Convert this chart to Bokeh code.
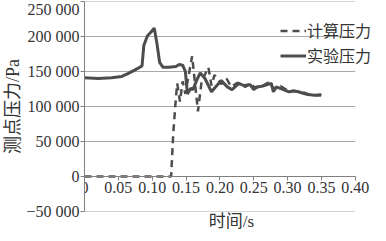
from bokeh.plotting import figure
from bokeh.models import Legend, LegendItem, FixedTicker, LinearAxis, CustomJSTickFormatter
from bokeh.embed import file_html
from bokeh.resources import INLINE

# experimental pressure (solid)
exp_t = [0.0, 0.02, 0.04, 0.055, 0.064, 0.072, 0.078, 0.085, 0.0876, 0.093, 0.098, 0.103, 0.107,
         0.111, 0.116, 0.125, 0.135, 0.140, 0.145, 0.149, 0.152, 0.157, 0.160, 0.166, 0.171,
         0.178, 0.1876, 0.192, 0.202, 0.211, 0.218, 0.228, 0.235, 0.245, 0.250, 0.254, 0.262,
         0.269, 0.276, 0.279, 0.283, 0.292, 0.302, 0.310, 0.316, 0.323, 0.330, 0.340, 0.3495]
exp_p = [141000, 140000, 141000, 143000, 147000, 151000, 154000, 158000, 187000, 201000, 206000, 212000, 190000,
         163000, 156000, 156000, 157000, 160000, 159000, 150000, 118000, 126000, 124000, 138000, 148000,
         140000, 121000, 126000, 137000, 128000, 124000, 133000, 130000, 131000, 124000, 128000, 129000,
         131000, 133000, 121000, 128000, 125000, 121000, 122000, 121000, 119000, 117000, 116000, 116000]

# computed pressure (dashed)
cal_t = [0.0, 0.128, 0.131, 0.135, 0.137, 0.141, 0.145, 0.149, 0.153, 0.159, 0.1676, 0.173,
         0.183, 0.1876, 0.192, 0.202, 0.2098, 0.2167, 0.226, 0.238, 0.245, 0.252, 0.262,
         0.273, 0.280, 0.290, 0.300, 0.310, 0.320, 0.330, 0.340, 0.350]
cal_p = [0, 0, 60000, 112000, 133000, 107000, 136000, 118000, 140000, 172000, 93000, 136000,
         156000, 130000, 145000, 132000, 140000, 128000, 134000, 128000, 134000, 126000, 129000,
         135000, 124000, 129000, 123000, 122000, 121000, 118000, 116000, 117000]

x_ticks = [0.0, 0.05, 0.10, 0.15, 0.20, 0.25, 0.30, 0.35, 0.40]
y_ticks = [-50000, 0, 50000, 100000, 150000, 200000, 250000]

FONT = "Liberation Serif, Noto Sans CJK SC"
TXT = "#333333"
LINE = "#4d4d4d"
GRID = "#a8a8a8"

# frame is widened to the right (beyond 0.40) so the legend can overhang the last tick
p = figure(width=378, height=233, output_backend="svg", toolbar_location=None,
           x_range=(0, 0.4343), y_range=(-50000, 250000),
           min_border_left=4, min_border_right=0, min_border_top=1, min_border_bottom=0)
p.outline_line_color = None
p.background_fill_color = "white"
p.border_fill_color = "white"

p.xaxis.fixed_location = 0
p.xaxis.bounds = (x_ticks[0], x_ticks[-1])
p.xaxis.ticker = FixedTicker(ticks=x_ticks)
p.xaxis.formatter = CustomJSTickFormatter(code="return tick === 0 ? '0' : tick.toFixed(2);")
p.yaxis.ticker = FixedTicker(ticks=y_ticks)
p.yaxis.formatter = CustomJSTickFormatter(
    code="var s = Math.abs(tick).toString(); if (s.length > 3) { s = s.slice(0, s.length-3) + ' ' + s.slice(-3); } return (tick < 0 ? '\u2212' : '') + s;")

for ax in (p.xaxis[0], p.yaxis[0]):
    ax.major_label_text_font = FONT
    ax.major_label_text_font_size = "16px"
    ax.major_label_text_color = TXT
    ax.axis_line_color = "#808080"
    ax.major_tick_line_color = "#808080"
    ax.major_tick_in = 0
    ax.major_tick_out = 4
    ax.minor_tick_line_color = None
    ax.axis_label_text_font = FONT
    ax.axis_label_text_font_size = "18px"
    ax.axis_label_text_font_style = "normal"
    ax.axis_label_text_color = TXT
p.xaxis.major_label_standoff = 1
p.yaxis.major_label_standoff = 1
p.yaxis.axis_label = "测点压力/Pa"
p.yaxis.axis_label_standoff = 0

# x-axis title sits at the bottom of the chart, on a tick-less helper axis
lab_ax = LinearAxis(ticker=FixedTicker(ticks=[]), axis_label="时间/s",
                    axis_line_color=None, major_tick_line_color=None, minor_tick_line_color=None,
                    major_label_text_font_size="0px", major_tick_out=0, major_tick_in=0,
                    major_label_standoff=0, axis_label_standoff=0,
                    axis_label_text_font=FONT, axis_label_text_font_size="17px",
                    axis_label_text_font_style="normal", axis_label_text_color=TXT)
p.add_layout(lab_ax, "below")

p.grid.visible = False
# horizontal grid lines spanning 0 .. 0.40 only
p.segment(x0=[x_ticks[0]] * len(y_ticks), x1=[x_ticks[-1]] * len(y_ticks),
          y0=y_ticks, y1=y_ticks, line_color=GRID, line_width=1)

r_cal = p.line(cal_t, cal_p, line_color=LINE, line_width=2.5, line_dash="7 5")
r_exp = p.line(exp_t, exp_p, line_color=LINE, line_width=3)

legend = Legend(items=[LegendItem(label="计算压力", renderers=[r_cal]),
                       LegendItem(label="实验压力", renderers=[r_exp])],
                location=(196, 144))
legend.background_fill_alpha = 0
legend.border_line_color = None
legend.label_text_font = FONT
legend.label_text_font_size = "16px"
legend.label_text_line_height = 1.0
legend.label_text_color = TXT
legend.glyph_width = 26
legend.glyph_height = 19
legend.label_height = 19
legend.label_standoff = 1
legend.spacing = 1
legend.padding = 2
legend.margin = 0
p.add_layout(legend, "center")

open("out.html", "w").write(file_html(p, INLINE))
